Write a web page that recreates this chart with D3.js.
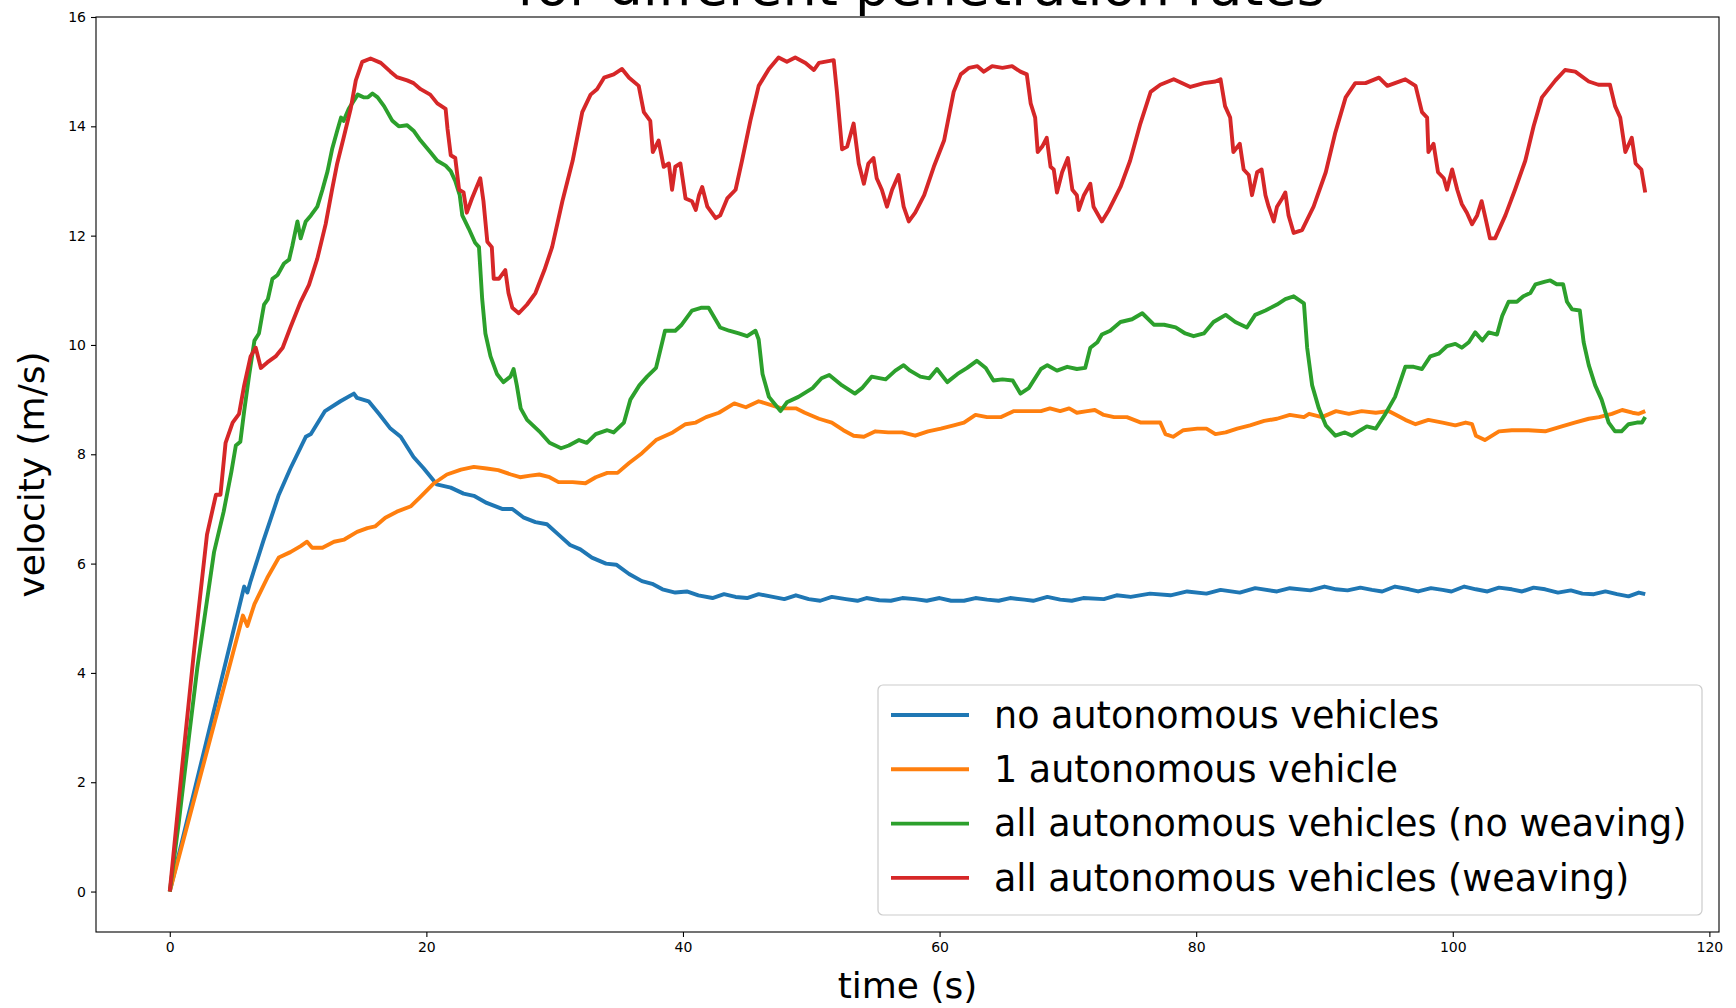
<!DOCTYPE html>
<html>
<head>
<meta charset="utf-8">
<script src="https://cdn.jsdelivr.net/npm/d3@7"></script>
<style>
  html, body { margin: 0; padding: 0; background: #ffffff; }
  svg { display: block; font-family: "DejaVu Sans", sans-serif; }
</style>
</head>
<body>
<svg id="chart" width="1736" height="1008"></svg>
<script>
// ---------- data ----------
const titleText = "for different penetration rates";
const xLabel = "time (s)";
const yLabel = "velocity (m/s)";
const timeTicks = [0, 20, 40, 60, 80, 100, 120];
const velocityTicks = [0, 2, 4, 6, 8, 10, 12, 14, 16];
const seriesNames = [
  "no autonomous vehicles",
  "1 autonomous vehicle",
  "all autonomous vehicles (no weaving)",
  "all autonomous vehicles (weaving)"
];
const seriesColors = ["#1f77b4", "#ff7f0e", "#2ca02c", "#d62728"];

// [time (s), velocity (m/s)]
const noAutonomous = [[0,0],[5.8,5.58],[6.05,5.47],[6.3,5.68],[7.3,6.42],[8.5,7.26],[9.4,7.74],[10.6,8.32],[11,8.37],[12.1,8.79],[13.3,8.97],[14.35,9.11],[14.6,9.03],[15.5,8.97],[16.3,8.74],[17.2,8.47],[18,8.32],[19,7.95],[19.8,7.74],[20.8,7.45],[21.9,7.39],[22.9,7.28],[23.7,7.24],[24.7,7.11],[25.9,7.0],[26.7,7.0],[27.6,6.84],[28.5,6.76],[29.4,6.72],[30.3,6.53],[31.2,6.34],[32,6.26],[32.9,6.11],[34,6.0],[34.8,5.98],[35.8,5.81],[36.8,5.68],[37.6,5.63],[38.4,5.53],[39.4,5.47],[40.3,5.49],[41.2,5.42],[42.3,5.37],[43.2,5.44],[44.1,5.39],[45,5.37],[45.9,5.44],[47,5.39],[47.9,5.35],[48.8,5.42],[49.8,5.35],[50.7,5.32],[51.6,5.39],[52.7,5.35],[53.6,5.32],[54.3,5.37],[55.3,5.33],[56.2,5.32],[57.1,5.37],[58.1,5.35],[59,5.32],[60,5.37],[60.9,5.32],[61.9,5.32],[62.8,5.37],[63.7,5.34],[64.6,5.32],[65.5,5.37],[66.6,5.34],[67.3,5.32],[68.4,5.39],[69.4,5.34],[70.3,5.32],[71.2,5.37],[72.8,5.35],[73.8,5.42],[74.9,5.39],[76.4,5.45],[78,5.42],[79.3,5.49],[80.8,5.45],[81.9,5.52],[83.4,5.47],[84.6,5.55],[86.3,5.49],[87.3,5.55],[88.9,5.51],[90,5.58],[90.9,5.53],[91.8,5.51],[92.8,5.56],[93.7,5.52],[94.5,5.49],[95.5,5.58],[96.6,5.53],[97.3,5.49],[98.3,5.55],[99.2,5.52],[99.9,5.49],[100.9,5.58],[101.8,5.53],[102.7,5.49],[103.6,5.56],[104.6,5.53],[105.4,5.49],[106.3,5.56],[107.2,5.53],[108.2,5.47],[109.2,5.51],[110.1,5.45],[111,5.44],[111.9,5.49],[112.8,5.44],[113.7,5.4],[114.5,5.47],[115,5.44]];

const oneAutonomous = [[0,0],[5.7,5.05],[6.05,4.86],[6.6,5.26],[7.6,5.74],[8.5,6.11],[9.4,6.21],[10.2,6.32],[10.7,6.4],[11.1,6.29],[11.9,6.29],[12.8,6.4],[13.6,6.44],[14.6,6.58],[15.4,6.65],[16,6.68],[16.8,6.84],[17.7,6.95],[18.8,7.05],[19.5,7.21],[20.6,7.47],[21.6,7.63],[22.7,7.72],[23.7,7.77],[24.7,7.74],[25.6,7.71],[26.6,7.63],[27.3,7.58],[28.1,7.61],[28.8,7.63],[29.6,7.58],[30.3,7.49],[31.4,7.49],[32.4,7.47],[33.2,7.58],[34.1,7.66],[34.9,7.66],[35.8,7.84],[36.8,8.02],[37.9,8.26],[39.2,8.4],[40.2,8.55],[41,8.58],[41.8,8.68],[42.8,8.76],[44,8.93],[44.9,8.86],[45.9,8.97],[47,8.89],[47.7,8.84],[48.8,8.84],[49.5,8.76],[50.6,8.65],[51.6,8.58],[52.5,8.44],[53.3,8.34],[54.1,8.32],[55,8.42],[56,8.4],[57.1,8.4],[58.1,8.34],[59.1,8.42],[60.1,8.47],[61.1,8.53],[61.9,8.58],[62.8,8.72],[63.7,8.68],[64.8,8.68],[65.8,8.79],[66.8,8.79],[67.9,8.79],[68.6,8.84],[69.4,8.79],[70.1,8.84],[70.7,8.76],[71.5,8.79],[72.1,8.81],[72.8,8.72],[73.6,8.68],[74.6,8.68],[75.7,8.58],[76.7,8.58],[77.2,8.58],[77.6,8.37],[78.2,8.32],[79,8.44],[80.1,8.47],[80.8,8.47],[81.5,8.37],[82.3,8.4],[83.2,8.47],[84.2,8.53],[85.3,8.61],[86.3,8.65],[87.3,8.72],[88.4,8.68],[88.8,8.74],[89.8,8.68],[90.9,8.79],[91.9,8.74],[92.9,8.79],[94,8.76],[95,8.79],[96.3,8.63],[97.1,8.55],[98.1,8.63],[99.2,8.58],[100.2,8.53],[101,8.58],[101.5,8.55],[101.8,8.34],[102.5,8.26],[103.6,8.42],[104.6,8.44],[105.9,8.44],[107.2,8.42],[108.5,8.51],[109.5,8.58],[110.6,8.65],[111.4,8.68],[112.4,8.74],[113.2,8.81],[114,8.76],[114.5,8.74],[115,8.79]];

const allNoWeaving = [[0,0],[0.7,1.26],[1.5,2.84],[2.15,4.1],[2.8,5.16],[3.45,6.21],[4.2,6.95],[4.8,7.68],[5.15,8.16],[5.5,8.23],[5.8,8.79],[6.2,9.47],[6.6,10.08],[6.95,10.21],[7.35,10.74],[7.65,10.84],[8,11.21],[8.4,11.28],[8.9,11.49],[9.3,11.56],[9.55,11.81],[9.95,12.26],[10.2,11.95],[10.6,12.26],[11,12.37],[11.5,12.53],[11.9,12.84],[12.3,13.18],[12.65,13.58],[13.05,13.92],[13.35,14.16],[13.55,14.1],[13.95,14.32],[14.35,14.47],[14.65,14.58],[15.1,14.53],[15.45,14.53],[15.8,14.6],[16.2,14.53],[16.7,14.37],[17.35,14.1],[17.85,14.0],[18.5,14.02],[19,13.92],[19.55,13.74],[20.3,13.53],[20.85,13.37],[21.5,13.28],[21.9,13.18],[22.25,13.0],[22.6,12.74],[22.8,12.37],[23.3,12.13],[23.8,11.87],[24.1,11.79],[24.35,10.84],[24.6,10.21],[25,9.79],[25.5,9.47],[26,9.32],[26.55,9.42],[26.8,9.56],[27.05,9.26],[27.35,8.84],[27.85,8.63],[28.8,8.42],[29.6,8.21],[30.5,8.11],[31.1,8.16],[31.9,8.26],[32.5,8.21],[33.2,8.37],[34.1,8.44],[34.6,8.4],[35.4,8.58],[35.9,9.0],[36.6,9.26],[37.2,9.42],[37.9,9.58],[38.6,10.26],[39.4,10.26],[39.9,10.37],[40.7,10.63],[41.4,10.68],[42,10.68],[42.9,10.32],[43.6,10.26],[44.35,10.21],[45,10.16],[45.65,10.26],[45.9,10.1],[46.2,9.47],[46.7,9.05],[47.6,8.79],[48.1,8.95],[49,9.05],[50.1,9.21],[50.8,9.39],[51.4,9.45],[52.4,9.26],[53.4,9.11],[53.95,9.21],[54.7,9.42],[55.8,9.37],[56.55,9.53],[57.2,9.63],[57.7,9.53],[58.5,9.42],[59.2,9.39],[59.8,9.56],[60.6,9.32],[61.4,9.47],[62.15,9.58],[62.9,9.71],[63.6,9.58],[64.2,9.35],[64.9,9.37],[65.7,9.35],[66.3,9.11],[66.95,9.21],[67.9,9.56],[68.4,9.63],[69.15,9.53],[69.95,9.6],[70.7,9.56],[71.35,9.58],[71.75,9.95],[72.3,10.05],[72.65,10.19],[73.3,10.26],[74.1,10.42],[75,10.47],[75.8,10.58],[76.7,10.37],[77.5,10.37],[78.4,10.32],[79.15,10.21],[79.8,10.16],[80.6,10.21],[81.35,10.42],[82.3,10.55],[83.05,10.42],[83.95,10.32],[84.6,10.55],[85.4,10.63],[86.3,10.74],[86.95,10.84],[87.6,10.89],[88.4,10.76],[88.65,9.95],[89.04,9.26],[89.56,8.84],[90.1,8.53],[90.85,8.34],[91.6,8.4],[92.15,8.34],[92.8,8.44],[93.3,8.51],[94,8.47],[94.75,8.74],[95.5,9.05],[96.3,9.6],[96.95,9.6],[97.6,9.56],[98.25,9.79],[98.9,9.84],[99.55,9.98],[100.2,10.02],[100.7,9.95],[101.25,10.05],[101.75,10.23],[102.3,10.08],[102.8,10.23],[103.45,10.19],[103.85,10.53],[104.35,10.79],[105,10.79],[105.5,10.89],[106.05,10.95],[106.45,11.11],[107.2,11.16],[107.6,11.18],[108.1,11.11],[108.6,11.11],[108.9,10.79],[109.3,10.65],[109.9,10.63],[110.2,10.05],[110.6,9.63],[111.1,9.26],[111.6,9.0],[112.15,8.58],[112.65,8.42],[113.15,8.42],[113.7,8.55],[114.35,8.58],[114.75,8.58],[115,8.68]];

const allWeaving = [[0,0],[0.98,2.32],[1.9,4.42],[2.9,6.53],[3.6,7.26],[3.95,7.26],[4.35,8.21],[4.9,8.58],[5.4,8.74],[5.8,9.26],[6.3,9.79],[6.7,9.95],[7.1,9.58],[7.6,9.68],[8.25,9.79],[8.8,9.95],[9.4,10.32],[10.2,10.79],[10.85,11.1],[11.5,11.58],[12.15,12.21],[12.65,12.84],[13.05,13.32],[13.55,13.79],[14.1,14.32],[14.5,14.84],[15,15.18],[15.65,15.24],[16.45,15.16],[17.2,15.0],[17.7,14.9],[18.5,14.84],[19,14.79],[19.55,14.68],[20.3,14.58],[20.85,14.42],[21.5,14.32],[21.65,13.95],[21.9,13.47],[22.25,13.42],[22.55,12.84],[22.9,12.79],[23.15,12.42],[23.55,12.68],[24.2,13.05],[24.45,12.63],[24.75,11.89],[25.1,11.79],[25.25,11.21],[25.65,11.21],[26.15,11.37],[26.4,10.95],[26.7,10.68],[27.2,10.58],[27.85,10.74],[28.5,10.95],[29.2,11.37],[29.8,11.79],[30.6,12.63],[31.4,13.37],[32.15,14.26],[32.8,14.58],[33.3,14.68],[33.85,14.89],[34.6,14.95],[35.25,15.05],[35.8,14.89],[36.55,14.74],[36.95,14.26],[37.45,14.1],[37.65,13.53],[38.1,13.74],[38.5,13.26],[38.9,13.32],[39.15,12.84],[39.4,13.26],[39.8,13.32],[40.2,12.68],[40.7,12.63],[41,12.47],[41.25,12.74],[41.5,12.89],[41.9,12.53],[42.55,12.32],[42.9,12.37],[43.45,12.68],[44.1,12.84],[44.6,13.37],[45.25,14.1],[45.9,14.74],[46.7,15.05],[47.45,15.26],[48.1,15.18],[48.75,15.26],[49.55,15.16],[50.2,15.03],[50.6,15.16],[51.75,15.21],[52,14.63],[52.4,13.58],[52.8,13.63],[53.3,14.05],[53.7,13.32],[54.1,12.95],[54.45,13.32],[54.85,13.42],[55.1,13.05],[55.5,12.84],[55.9,12.53],[56.3,12.84],[56.8,13.11],[57.2,12.53],[57.6,12.26],[58.1,12.42],[58.8,12.74],[59.55,13.26],[60.35,13.74],[61.1,14.63],[61.65,14.95],[62.3,15.07],[62.95,15.1],[63.45,15.0],[64.1,15.1],[64.9,15.07],[65.65,15.1],[66.3,15.0],[66.8,14.95],[67.1,14.42],[67.45,14.16],[67.65,13.53],[68,13.63],[68.35,13.79],[68.65,13.26],[68.9,13.21],[69.15,12.79],[69.55,13.16],[70,13.42],[70.35,12.84],[70.7,12.74],[70.85,12.47],[71.25,12.74],[71.75,12.95],[72,12.53],[72.65,12.26],[73.2,12.47],[74.1,12.89],[74.85,13.37],[75.65,14.05],[76.45,14.63],[77.2,14.76],[78.25,14.86],[79.55,14.72],[80.6,14.79],[81.5,14.82],[81.9,14.86],[82.25,14.37],[82.65,14.16],[82.9,13.53],[83.4,13.68],[83.7,13.21],[84.1,13.11],[84.35,12.74],[84.75,13.16],[85.1,13.21],[85.4,12.74],[85.65,12.53],[86.05,12.26],[86.3,12.53],[86.7,12.68],[86.95,12.79],[87.2,12.37],[87.6,12.05],[88.25,12.1],[89.15,12.53],[90.1,13.16],[90.85,13.89],[91.65,14.53],[92.4,14.79],[93.2,14.79],[94.25,14.89],[94.9,14.74],[96.3,14.86],[97.1,14.74],[97.6,14.26],[98,14.16],[98.1,13.53],[98.5,13.68],[98.85,13.16],[99.3,13.05],[99.55,12.84],[99.95,13.21],[100.35,12.84],[100.7,12.58],[101.1,12.42],[101.5,12.21],[101.9,12.37],[102.25,12.63],[102.55,12.32],[102.9,11.95],[103.3,11.95],[104.1,12.37],[104.85,12.84],[105.65,13.37],[106.3,14.0],[106.95,14.53],[108,14.84],[108.75,15.03],[109.55,15.0],[110.6,14.82],[111.35,14.76],[112.25,14.76],[112.65,14.37],[113.05,14.16],[113.45,13.53],[113.95,13.79],[114.25,13.32],[114.7,13.21],[115,12.79]];

const seriesData = [noAutonomous, oneAutonomous, allNoWeaving, allWeaving];

// ---------- layout ----------
const svg = d3.select("#chart");
const W = 1736, H = 1008;
const plot = { left: 96, right: 1719, top: 17, bottom: 932 };

const x = d3.scaleLinear().domain([-5.75, 120.75]).range([plot.left, plot.right]);
const y = d3.scaleLinear().domain([-0.74, 16.0]).range([plot.bottom, plot.top]);

svg.append("rect").attr("width", W).attr("height", H).attr("fill", "#ffffff");

// title (second line, partly cut off at the top of the image, as in the original)
svg.append("text")
  .attr("x", 921).attr("y", 5)
  .attr("text-anchor", "middle")
  .attr("font-size", 54)
  .attr("fill", "#000")
  .text(titleText);

// clip
svg.append("clipPath").attr("id", "clip")
  .append("rect")
  .attr("x", plot.left).attr("y", plot.top)
  .attr("width", plot.right - plot.left).attr("height", plot.bottom - plot.top);

// lines
const line = d3.line().x(d => x(d[0])).y(d => y(d[1]));
const g = svg.append("g").attr("clip-path", "url(#clip)");
seriesData.forEach((s, i) => {
  g.append("path")
    .datum(s)
    .attr("d", line)
    .attr("fill", "none")
    .attr("stroke", seriesColors[i])
    .attr("stroke-width", 3.9)
    .attr("stroke-linejoin", "round")
    .attr("stroke-linecap", "butt");
});

// axes
const xAxis = d3.axisBottom(x).tickValues(timeTicks).tickSize(5).tickPadding(5).tickFormat(d3.format("d"));
const yAxis = d3.axisLeft(y).tickValues(velocityTicks).tickSize(5).tickPadding(5).tickFormat(d3.format("d"));

const gx = svg.append("g").attr("transform", `translate(0,${plot.bottom})`).call(xAxis);
const gy = svg.append("g").attr("transform", `translate(${plot.left},0)`).call(yAxis);
[gx, gy].forEach(ax => {
  ax.select(".domain").remove();
  ax.selectAll(".tick line").attr("stroke", "#000").attr("stroke-width", 1.1);
  ax.selectAll(".tick text").attr("font-size", 14).attr("fill", "#000")
    .attr("font-family", "DejaVu Sans, sans-serif");
});

// frame (spines)
svg.append("rect")
  .attr("x", plot.left).attr("y", plot.top)
  .attr("width", plot.right - plot.left).attr("height", plot.bottom - plot.top)
  .attr("fill", "none").attr("stroke", "#000").attr("stroke-width", 1.1);

// axis labels
svg.append("text")
  .attr("x", (plot.left + plot.right) / 2).attr("y", 998)
  .attr("text-anchor", "middle").attr("font-size", 36).attr("fill", "#000")
  .text(xLabel);
svg.append("text")
  .attr("transform", `translate(44,${(plot.top + plot.bottom) / 2}) rotate(-90)`)
  .attr("text-anchor", "middle").attr("font-size", 36).attr("fill", "#000")
  .text(yLabel);

// legend
const leg = { x: 878, y: 685, w: 824, h: 230, rowY0: 715, rowStep: 54.3 };
svg.append("rect")
  .attr("x", leg.x).attr("y", leg.y).attr("width", leg.w).attr("height", leg.h)
  .attr("rx", 5).attr("ry", 5)
  .attr("fill", "#ffffff").attr("fill-opacity", 0.8)
  .attr("stroke", "#cccccc").attr("stroke-width", 1.2);
seriesNames.forEach((name, i) => {
  const cy = leg.rowY0 + i * leg.rowStep;
  svg.append("line")
    .attr("x1", 891).attr("x2", 969).attr("y1", cy).attr("y2", cy)
    .attr("stroke", seriesColors[i]).attr("stroke-width", 3.9);
  svg.append("text")
    .attr("x", 994).attr("y", cy).attr("dy", "0.35em")
    .attr("font-size", 36.5).attr("fill", "#000")
    .text(name);
});
</script>
</body>
</html>
